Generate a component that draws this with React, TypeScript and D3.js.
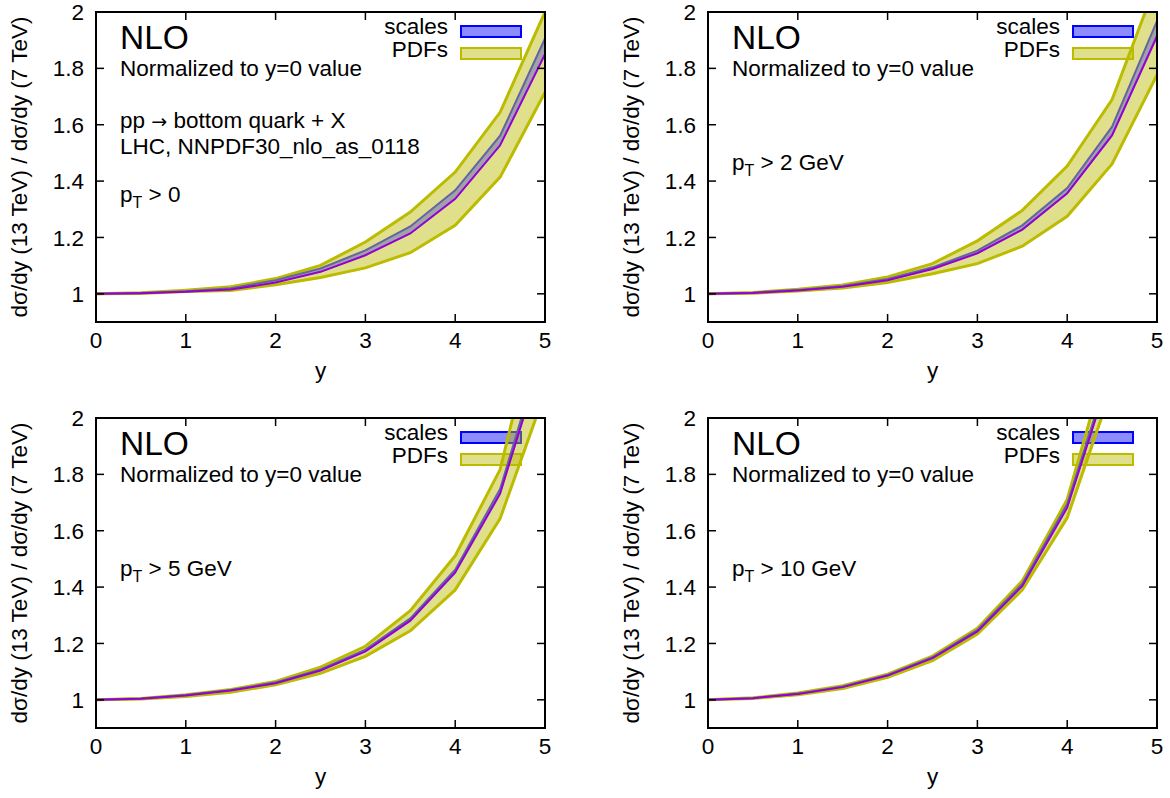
import React from "react";
import * as d3 from "d3";

const rapidity = [0, 0.5, 1, 1.5, 2, 2.5, 3, 3.5, 4, 4.5, 5];
const xTicks = [0, 1, 2, 3, 4, 5];
const yTicks = [1, 1.2, 1.4, 1.6, 1.8, 2];
const yTickLabels = ["1", "1.2", "1.4", "1.6", "1.8", "2"];
const ptCuts = ["0", "2 GeV", "5 GeV", "10 GeV"];
const legendLabels = ["scales", "PDFs"];

// pT > 0
const central0 = [1.0, 1.002, 1.007, 1.015, 1.04, 1.078, 1.137, 1.214, 1.337, 1.527, 1.85];
const scaleHi0 = [1.0, 1.003, 1.009, 1.02, 1.048, 1.09, 1.154, 1.239, 1.367, 1.561, 1.906];
const scaleLo0 = [1.0, 1.002, 1.006, 1.014, 1.039, 1.076, 1.135, 1.211, 1.333, 1.522, 1.843];
const pdfHi0 = [1.0, 1.004, 1.013, 1.025, 1.054, 1.101, 1.184, 1.29, 1.432, 1.644, 2.0];
const pdfLo0 = [1.0, 1.001, 1.008, 1.012, 1.032, 1.058, 1.092, 1.146, 1.243, 1.414, 1.715];

// pT > 2 GeV
const central2 = [1.0, 1.003, 1.012, 1.025, 1.048, 1.088, 1.144, 1.228, 1.357, 1.563, 1.915];
const scaleHi2 = [1.0, 1.004, 1.014, 1.028, 1.053, 1.094, 1.153, 1.243, 1.375, 1.593, 1.968];
const scaleLo2 = [1.0, 1.003, 1.011, 1.024, 1.046, 1.086, 1.141, 1.224, 1.352, 1.556, 1.905];
const pdfHi2 = [1.0, 1.005, 1.016, 1.031, 1.06, 1.107, 1.188, 1.296, 1.453, 1.689, 2.11];
const pdfLo2 = [1.0, 1.002, 1.01, 1.021, 1.04, 1.071, 1.107, 1.169, 1.275, 1.461, 1.777];

// pT > 5 GeV
const central5 = [1.0, 1.004, 1.015, 1.033, 1.059, 1.104, 1.172, 1.281, 1.452, 1.732, 2.25];
const scaleHi5 = [1.0, 1.005, 1.017, 1.035, 1.062, 1.108, 1.178, 1.289, 1.462, 1.748, 2.28];
const scaleLo5 = [1.0, 1.004, 1.014, 1.032, 1.057, 1.102, 1.169, 1.277, 1.446, 1.724, 2.23];
const pdfHi5 = [1.0, 1.005, 1.018, 1.037, 1.065, 1.116, 1.19, 1.316, 1.511, 1.817, 2.47];
const pdfLo5 = [1.0, 1.003, 1.012, 1.027, 1.053, 1.094, 1.154, 1.245, 1.39, 1.643, 2.09];

// pT > 10 GeV
const central10 = [1.0, 1.006, 1.021, 1.045, 1.086, 1.148, 1.243, 1.404, 1.682, 2.18, 2.95];
const scaleHi10 = [1.0, 1.006, 1.022, 1.047, 1.088, 1.151, 1.248, 1.412, 1.695, 2.2, 2.99];
const scaleLo10 = [1.0, 1.005, 1.02, 1.044, 1.084, 1.146, 1.24, 1.4, 1.676, 2.17, 2.93];
const pdfHi10 = [1.0, 1.007, 1.024, 1.05, 1.091, 1.155, 1.254, 1.422, 1.711, 2.27, 3.1];
const pdfLo10 = [1.0, 1.005, 1.018, 1.04, 1.08, 1.139, 1.233, 1.39, 1.646, 2.11, 2.82];

const panels = [
  { left: 96, top: 12, cut: ptCuts[0], central: central0, scaleHi: scaleHi0, scaleLo: scaleLo0, pdfHi: pdfHi0, pdfLo: pdfLo0, extra: true },
  { left: 708, top: 12, cut: ptCuts[1], central: central2, scaleHi: scaleHi2, scaleLo: scaleLo2, pdfHi: pdfHi2, pdfLo: pdfLo2, extra: false },
  { left: 96, top: 418, cut: ptCuts[2], central: central5, scaleHi: scaleHi5, scaleLo: scaleLo5, pdfHi: pdfHi5, pdfLo: pdfLo5, extra: false },
  { left: 708, top: 418, cut: ptCuts[3], central: central10, scaleHi: scaleHi10, scaleLo: scaleLo10, pdfHi: pdfHi10, pdfLo: pdfLo10, extra: false },
];

const PLOT_W = 449;
const PLOT_H = 310;
const FONT = "'Liberation Sans', Arial, Helvetica, sans-serif";
const YELLOW = "rgb(187,187,0)";
const BLUE = "rgb(0,0,255)";
const PURPLE = "rgb(148,0,211)";
const FS = 22.5;

function Panel({ p, idx }: { p: any; idx: number }) {
  const x = d3.scaleLinear().domain([0, 5]).range([p.left, p.left + PLOT_W]);
  const y = d3.scaleLinear().domain([0.9, 2]).range([p.top + PLOT_H, p.top]);
  const band = (lo: number[], hi: number[]) =>
    d3
      .area<number>()
      .x((_, i) => x(rapidity[i]))
      .y0((_, i) => y(lo[i]))
      .y1((_, i) => y(hi[i]))(rapidity) as string;
  const line = (v: number[]) =>
    d3
      .line<number>()
      .x((_, i) => x(rapidity[i]))
      .y((_, i) => y(v[i]))(rapidity) as string;
  const clipId = `clip${idx}`;
  const L = p.left;
  const T = p.top;
  const R = p.left + PLOT_W;
  const B = p.top + PLOT_H;
  const tl = 8;
  return (
    <g>
      <defs>
        <clipPath id={clipId}>
          <rect x={L} y={T} width={PLOT_W} height={PLOT_H} />
        </clipPath>
      </defs>
      {/* texts */}
      <g fontFamily={FONT} fill="#000">
        <text x={L + 24} y={T + 37} fontSize={33.5}>NLO</text>
        <text x={L + 24} y={T + 64} fontSize={FS}>Normalized to y=0 value</text>
        {p.extra && (
          <>
            <text x={L + 24} y={T + 116} fontSize={FS}>
              {"pp "}
              <tspan fontFamily="'DejaVu Sans', sans-serif" fontSize={19}>→</tspan>
              {" bottom quark + X"}
            </text>
            <text x={L + 24} y={T + 142} fontSize={FS}>LHC, NNPDF30_nlo_as_0118</text>
          </>
        )}
        <text x={L + 24} y={T + (p.extra ? 190 : 158)} fontSize={FS}>
          p<tspan dy={6} fontSize={16}>T</tspan>
          <tspan dy={-6}>{" > " + p.cut}</tspan>
        </text>
        <text x={L + 352} y={T + 22} fontSize={FS} textAnchor="end">{legendLabels[0]}</text>
        <text x={L + 352} y={T + 45} fontSize={FS} textAnchor="end">{legendLabels[1]}</text>
      </g>
      {/* legend boxes */}
      <rect x={L + 365} y={T + 14} width={60} height={11} fill={BLUE} fillOpacity={0.45} stroke={BLUE} strokeWidth={2} />
      <rect x={L + 365} y={T + 36} width={60} height={11} fill={YELLOW} fillOpacity={0.45} stroke={YELLOW} strokeWidth={2} />
      {/* bands */}
      <g clipPath={`url(#${clipId})`}>
        <path d={band(p.pdfLo, p.pdfHi)} fill={YELLOW} fillOpacity={0.45} />
        <path d={line(p.pdfHi)} fill="none" stroke={YELLOW} strokeWidth={3} />
        <path d={line(p.pdfLo)} fill="none" stroke={YELLOW} strokeWidth={3} />
        <path d={band(p.scaleLo, p.scaleHi)} fill={BLUE} fillOpacity={0.28} />
        <path d={line(p.scaleHi)} fill="none" stroke="rgb(100,100,160)" strokeWidth={2} />
        <path d={line(p.central)} fill="none" stroke={PURPLE} strokeWidth={2} />
      </g>
      {/* ticks */}
      <g stroke="#000" strokeWidth={1.5}>
        {xTicks.map((t) => (
          <g key={"xt" + t}>
            <line x1={x(t)} x2={x(t)} y1={B} y2={B - tl} />
            <line x1={x(t)} x2={x(t)} y1={T} y2={T + tl} />
          </g>
        ))}
        {yTicks.map((t) => (
          <g key={"yt" + t}>
            <line x1={L} x2={L + tl} y1={y(t)} y2={y(t)} />
            <line x1={R} x2={R - tl} y1={y(t)} y2={y(t)} />
          </g>
        ))}
      </g>
      <rect x={L} y={T} width={PLOT_W} height={PLOT_H} fill="none" stroke="#000" strokeWidth={2} />
      {/* tick labels */}
      <g fontFamily={FONT} fontSize={FS} fill="#000">
        {xTicks.map((t) => (
          <text key={"xl" + t} x={x(t)} y={B + 26} textAnchor="middle">{String(t)}</text>
        ))}
        {yTicks.map((t, i) => (
          <text key={"yl" + t} x={L - 12} y={y(t)} dy="0.36em" textAnchor="end">{yTickLabels[i]}</text>
        ))}
        <text x={(L + R) / 2} y={B + 56} textAnchor="middle">y</text>
        <text
          transform={`translate(${L - 77},${(T + B) / 2}) rotate(-90)`}
          textAnchor="middle"
          dy="0.36em"
        >
          dσ/dy (13 TeV) / dσ/dy (7 TeV)
        </text>
      </g>
    </g>
  );
}

export default function App() {
  return (
    <svg
      width={1170}
      height={798}
      style={{ position: "absolute", left: 0, top: 0, background: "#fff" }}
    >
      <rect width={1170} height={798} fill="#fff" />
      {panels.map((p, i) => (
        <Panel key={i} p={p} idx={i} />
      ))}
    </svg>
  );
}
